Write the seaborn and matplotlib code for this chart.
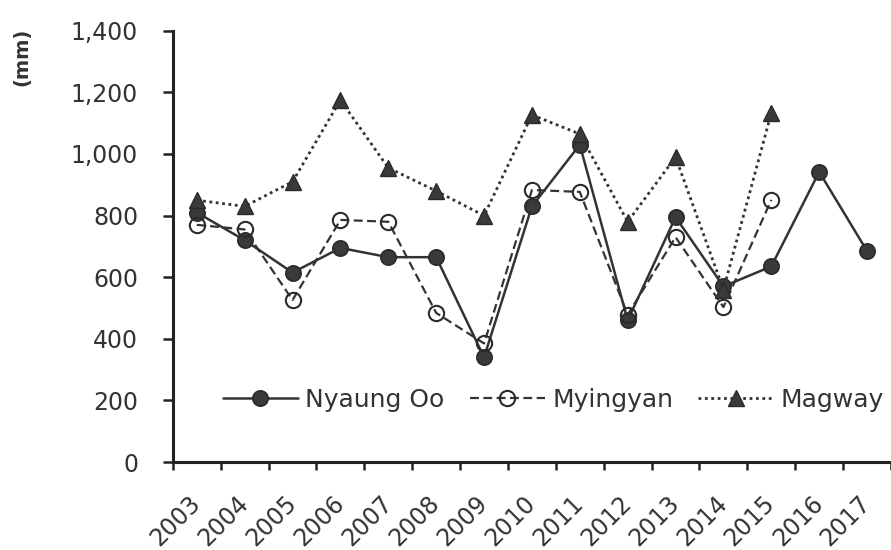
import numpy as np
import pandas as pd
import matplotlib
matplotlib.use("Agg")
import matplotlib.pyplot as plt
import matplotlib.transforms as mtrans
from matplotlib.ticker import FuncFormatter, FixedLocator
import seaborn as sns

# Annual rainfall (mm) at three stations
years = [str(y) for y in range(2003, 2018)]
nyaung_oo = [810, 720, 615, 695, 665, 665, 340, 830, 1030, 460, 795, 570, 635, 942, 685]
myingyan = [770, 755, 526, 786, 780, 484, 385, 883, 877, 478, 730, 503, 851]
magway = [850, 830, 910, 1175, 955, 880, 800, 1127, 1065, 780, 990, 560, 1133]
y_ticks = [0, 200, 400, 600, 800, 1000, 1200, 1400]

sns.set_theme(style="white")
plt.rcParams["font.family"] = ["DejaVu Sans"]

ink = "#333333"
fig = plt.figure(figsize=(8.91, 5.5), dpi=100)
ax = fig.add_axes([0.194, 0.16, 0.806, 0.784])

def frame(vals):
    return pd.DataFrame({"year": years[:len(vals)], "mm": vals})

sns.lineplot(data=frame(nyaung_oo), x="year", y="mm", ax=ax, label="Nyaung Oo",
             color=ink, linestyle="-", linewidth=1.8, marker="o", markersize=11,
             markerfacecolor="#3a3a3a", markeredgecolor="#2a2a2a", markeredgewidth=1.2)
sns.lineplot(data=frame(myingyan), x="year", y="mm", ax=ax, label="Myingyan",
             color=ink, linestyle=(0, (4, 2)), linewidth=1.6, marker="o", markersize=11,
             markerfacecolor="none", markeredgecolor="#2a2a2a", markeredgewidth=1.5)
sns.lineplot(data=frame(magway), x="year", y="mm", ax=ax, label="Magway",
             color=ink, linestyle=(0, (1, 1.3)), linewidth=2.0, marker="^", markersize=12,
             markerfacecolor="#3a3a3a", markeredgecolor="#2a2a2a", markeredgewidth=1.0)

ax.set_xlim(-0.5, len(years) - 0.5)
ax.set_ylim(0, 1400)
ax.set_yticks(y_ticks)
ax.yaxis.set_major_formatter(FuncFormatter(lambda v, p: f"{v:,.0f}"))

ax.set_xticks(range(len(years)))
ax.set_xticklabels(years, rotation=45, ha="right", va="center", rotation_mode="anchor")
shift = mtrans.ScaledTranslation(6 / 100, 0, fig.dpi_scale_trans)
for lab in ax.get_xticklabels():
    lab.set_transform(lab.get_transform() + shift)
ax.xaxis.set_minor_locator(FixedLocator(np.arange(-0.5, len(years), 1.0)))
ax.tick_params(axis="x", which="major", length=0, pad=27, labelsize=17, labelcolor=ink)
ax.tick_params(axis="x", which="minor", length=6, width=1.8, color="#222222", direction="out", bottom=True)
ax.tick_params(axis="y", which="major", length=7, width=1.8, color="#222222", direction="out",
               left=True, labelsize=17, labelcolor=ink, pad=18)

for side in ("top", "right"):
    ax.spines[side].set_visible(False)
for side in ("left", "bottom"):
    ax.spines[side].set_color("#222222")
    ax.spines[side].set_linewidth(2.2)

ax.set_xlabel("")
ax.set_ylabel("")
fig.text(0.025, 0.896, "(mm)", rotation=90, ha="center", va="center",
         fontsize=14, fontweight="bold", color=ink)

ax.legend(loc="center", bbox_to_anchor=(0.53, 0.144), ncol=3, frameon=False,
          fontsize=18, handlelength=3.0, handletextpad=0.3, columnspacing=1.0,
          labelcolor=ink)

fig.savefig("out.png", dpi=100, facecolor="white")
